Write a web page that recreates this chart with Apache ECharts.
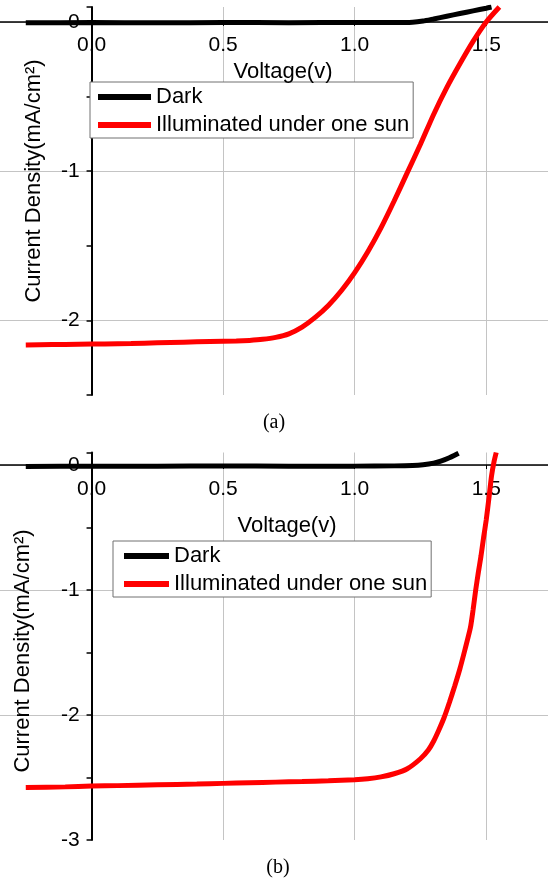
<!DOCTYPE html>
<html>
<head>
<meta charset="utf-8">
<title>J-V curves</title>
<script src="https://cdn.jsdelivr.net/npm/echarts@6/dist/echarts.min.js"></script>
<style>
    html, body { margin: 0; padding: 0; background: #fff; }
    #main { width: 548px; height: 882px; }
</style>
</head>
<body>
<div id="main"></div>
<script>
// names + tick labels
var seriesNames = ['Dark', 'Illuminated under one sun'];
var xTickLabels = ['0.0', '0.5', '1.0', '1.5'];
var yTickLabelsA = ['0', '-1', '-2'];
var yTickLabelsB = ['0', '-1', '-2', '-3'];

// panel (a) - dark
var voltDarkA = [-0.25, 0, 0.25, 0.5, 0.75, 1.0, 1.15, 1.22, 1.26, 1.3, 1.35, 1.4, 1.45, 1.5, 1.52];
var curDarkA  = [-0.006, -0.004, -0.006, -0.004, -0.005, -0.004, -0.004, -0.002, 0.006, 0.02, 0.038, 0.056, 0.074, 0.092, 0.1];
// panel (a) - illuminated
var voltLightA = [-0.25, -0.15, -0.05, 0.05, 0.15, 0.25, 0.35, 0.45, 0.55, 0.6, 0.65, 0.7, 0.75, 0.8, 0.85, 0.9, 0.95,
                  1.0, 1.05, 1.1, 1.15, 1.2, 1.25, 1.3, 1.35, 1.4, 1.45, 1.5, 1.55];
var curLightA  = [-2.165, -2.162, -2.16, -2.158, -2.155, -2.15, -2.146, -2.142, -2.138, -2.134, -2.127, -2.114, -2.09, -2.045, -1.98, -1.9, -1.8,
                  -1.68, -1.54, -1.38, -1.2, -1.01, -0.82, -0.62, -0.44, -0.28, -0.13, 0.0, 0.1];

// panel (b) - dark
var voltDarkB = [-0.25, 0, 0.25, 0.5, 0.75, 1.0, 1.15, 1.22, 1.26, 1.3, 1.33, 1.36, 1.38, 1.395];
var curDarkB  = [-0.012, -0.01, -0.009, -0.008, -0.009, -0.009, -0.007, -0.004, 0.002, 0.015, 0.033, 0.058, 0.078, 0.094];
// panel (b) - illuminated
var voltLightB = [-0.25, -0.1, 0, 0.1, 0.25, 0.4, 0.5, 0.6, 0.7, 0.8, 0.9, 1.0, 1.05, 1.1, 1.15, 1.2, 1.25, 1.28,
                  1.3, 1.32, 1.34, 1.36, 1.38, 1.4, 1.42, 1.44, 1.45, 1.46, 1.47, 1.48, 1.49, 1.5, 1.51, 1.52, 1.53, 1.538];
var curLightB  = [-2.58, -2.575, -2.568, -2.565, -2.558, -2.552, -2.547, -2.542, -2.537, -2.532, -2.526, -2.518, -2.51, -2.495, -2.47, -2.43, -2.35, -2.28,
                  -2.21, -2.12, -2.02, -1.9, -1.77, -1.63, -1.47, -1.3, -1.16, -1.0, -0.86, -0.73, -0.58, -0.44, -0.27, -0.09, 0.03, 0.1];

var SANS = 'Arial, "Liberation Sans", sans-serif';
var SERIF = '"Times New Roman", "Liberation Serif", serif';
var GRID_GRAY = '#c4c4c4';

// plot boxes; axes cross at (0,0) inside each box
var X_MIN = -0.5, X_MAX = 1.75, Y_MAX = 0.1;
var gridA = { left: -40, top: 7, width: 592, height: 388, yMin: -2.5 };
var gridB = { left: -40, top: 452.5, width: 592, height: 387.5, yMin: -3 };

function pairs(xs, ys) {
    return xs.map(function (x, i) { return [x, ys[i]]; });
}

function xAxisFor(idx, g, margin) {
    // shift the bottom axis up to y = 0
    var zeroY = g.top + g.height * Y_MAX / (Y_MAX - g.yMin);
    return {
        type: 'value', gridIndex: idx, min: X_MIN, max: X_MAX, interval: 0.5,
        position: 'bottom', offset: -(g.top + g.height - zeroY),
        axisLine: { onZero: false, lineStyle: { color: '#000', width: 1.5 } },
        axisTick: { show: true, length: 4, lineStyle: { color: '#000', width: 1 } },
        axisLabel: {
            margin: margin, fontSize: 21, fontFamily: SANS, color: '#000',
            formatter: function (v) {
                var s = v.toFixed(1);
                return xTickLabels.indexOf(s) >= 0 ? s : '';
            }
        },
        splitLine: { show: true, lineStyle: { color: GRID_GRAY, width: 1 } }
    };
}

function yAxisFor(idx, g, labels) {
    // shift the left axis right to x = 0
    var zeroX = g.left + g.width * (0 - X_MIN) / (X_MAX - X_MIN);
    // ticks every 0.5 from min, plus the top edge; grid lines only on whole numbers
    var colors = [];
    for (var v = g.yMin; v <= 0.0001; v += 0.5) {
        var whole = Math.abs(v - Math.round(v)) < 1e-6 && v > g.yMin + 1e-6;
        colors.push(whole ? GRID_GRAY : 'rgba(0,0,0,0)');
    }
    colors.push('rgba(0,0,0,0)');
    return {
        type: 'value', gridIndex: idx, min: g.yMin, max: Y_MAX, interval: 0.5,
        position: 'left', offset: -(zeroX - g.left),
        axisLine: { onZero: false, lineStyle: { color: '#000', width: 2 } },
        axisTick: { show: true, length: 5, lineStyle: { color: '#000', width: 1.5 } },
        axisLabel: {
            margin: 12, fontSize: 21, fontFamily: SANS, color: '#000',
            formatter: function (v) {
                var s = String(Math.round(v));
                return (Math.abs(v - Math.round(v)) < 1e-6 && labels.indexOf(s) >= 0) ? s : '';
            }
        },
        splitLine: { show: true, lineStyle: { color: colors, width: 1 } }
    };
}

function legendFor(left, top, iconW, padL) {
    return {
        orient: 'vertical', left: left, top: top,
        icon: 'rect', itemWidth: iconW, itemHeight: 6, itemGap: 4,
        itemStyle: { borderWidth: 0 },
        padding: [3, 4, 1, padL],
        borderColor: '#707070', borderWidth: 1, borderRadius: 0, backgroundColor: '#fff',
        textStyle: { fontSize: 22, fontFamily: SANS, color: '#000', lineHeight: 24 },
        data: seriesNames
    };
}

function lineSeries(name, color, idx, data) {
    return {
        name: name, type: 'line', xAxisIndex: idx, yAxisIndex: idx,
        data: data, showSymbol: false, symbol: 'none', smooth: 0.2,
        color: color, lineStyle: { color: color, width: 5 }
    };
}

function label(text, x, y, size, family, rot) {
    return {
        type: 'text', x: x, y: y, rotation: rot || 0, z: 10,
        style: { text: text, fontSize: size, fontFamily: family, fill: '#000', align: 'center', verticalAlign: 'middle' }
    };
}

function gridBox(g) {
    return { left: g.left, top: g.top, width: g.width, height: g.height, containLabel: false, outerBoundsMode: 'none' };
}

var chart = echarts.init(document.getElementById('main'));
var option = {
    backgroundColor: '#fff',
    animation: false,
    grid: [gridBox(gridA), gridBox(gridB)],
    xAxis: [xAxisFor(0, gridA, 13), xAxisFor(1, gridB, 14)],
    yAxis: [yAxisFor(0, gridA, yTickLabelsA), yAxisFor(1, gridB, yTickLabelsB)],
    legend: [legendFor(90, 82, 53, 8), legendFor(113, 541, 45, 11)],
    graphic: [
        label('Voltage(v)', 283, 72, 22, SANS),
        label('Voltage(v)', 287, 526, 22, SANS),
        label('Current Density(mA/cm²)', 34, 181, 22, SANS, Math.PI / 2),
        label('Current Density(mA/cm²)', 23, 651, 22, SANS, Math.PI / 2),
        label('(a)', 274, 423, 20, SERIF),
        label('(b)', 278, 868, 20, SERIF)
    ],
    series: [
        lineSeries(seriesNames[0], '#000000', 0, pairs(voltDarkA, curDarkA)),
        lineSeries(seriesNames[1], '#ff0000', 0, pairs(voltLightA, curLightA)),
        lineSeries(seriesNames[0], '#000000', 1, pairs(voltDarkB, curDarkB)),
        lineSeries(seriesNames[1], '#ff0000', 1, pairs(voltLightB, curLightB))
    ]
};
chart.setOption(option);
</script>
</body>
</html>
